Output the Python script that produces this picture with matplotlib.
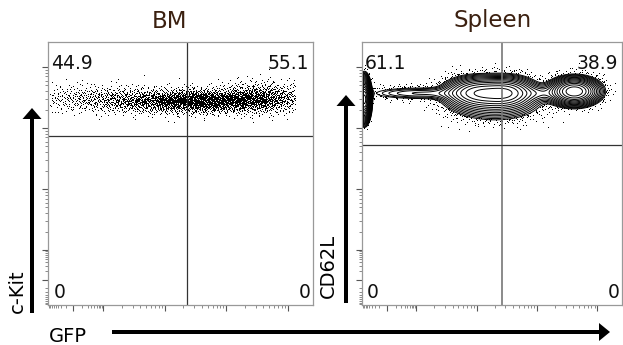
import numpy as np
import matplotlib
matplotlib.use('Agg')
import matplotlib.pyplot as plt
from matplotlib.patches import Polygon
from matplotlib.transforms import Affine2D

W, H = 623, 345
LIM = (-0.9, 3.41)   # display range in decades (logicle-like)

panels = ['BM', 'Spleen']
y_labels = ['c-Kit', 'CD62L']
x_label = 'GFP'
# quadrant percentages: upper-left, upper-right, lower-left, lower-right
bm_quad = ['44.9', '55.1', '0', '0']
spleen_quad = ['61.1', '38.9', '0', '0']
gate_x = [1.36, 1.42]
gate_y = [1.87, 1.72]

# populations: centre x, centre y, sd x, sd y, weight
bm_cx = [1.5, -0.2, 2.6]
bm_cy = [2.43, 2.47, 2.5]
bm_sx = [0.75, 0.6, 0.35]
bm_sy = [0.1, 0.12, 0.13]
bm_w = [0.7, 0.12, 0.18]
bm_xrange = [-0.87, 3.12]

sp_cx = [-0.86, 0.05, 1.0, 1.5, 1.3, 2.05, 2.62]
sp_cy = [2.47, 2.57, 2.58, 2.58, 2.38, 2.57, 2.6]
sp_sx = [0.045, 0.5, 0.27, 0.25, 0.4, 0.18, 0.2]
sp_sy = [0.15, 0.06, 0.13, 0.13, 0.15, 0.07, 0.11]
sp_w = [0.28, 0.03, 0.2, 0.2, 0.08, 0.012, 0.24]


def mixture(x, y, cx, cy, sx, sy, w):
    d = np.zeros_like(x, dtype=float)
    for a, b, c, e, f in zip(cx, cy, sx, sy, w):
        d += f * np.exp(-0.5 * ((x - a) / c) ** 2 - 0.5 * ((y - b) / e) ** 2) / (c * e)
    return d


def halton(n, base):
    i = np.arange(1, n + 1)
    f = 1.0
    r = np.zeros(n)
    while i.any():
        f /= base
        r += f * (i % base)
        i = i // base
    return r


def px(x, y):
    return x / W, 1 - y / H


fig = plt.figure(figsize=(W / 100, H / 100), dpi=100)
pix = Affine2D().scale(1 / W, -1 / H).translate(0, 1) + fig.transFigure

ax1 = fig.add_axes([48 / W, 40 / H, 265 / W, 263 / H])
ax2 = fig.add_axes([362 / W, 40 / H, 260 / W, 263 / H])

majors = [-0.49, 0, 1, 2, 3]
minors = [-0.49 + 0.49 * np.log10(k) for k in range(2, 10)]
minors += [-0.49 - 0.41 * np.log10(k) for k in range(2, 10)]
for dec in range(3):
    minors += [dec + np.log10(k) for k in range(2, 10)]

for ax in (ax1, ax2):
    ax.set_xlim(LIM)
    ax.set_ylim(LIM)
    ax.set_xticks(majors)
    ax.set_yticks(majors)
    ax.set_xticks(minors, minor=True)
    ax.set_yticks(minors, minor=True)
    ax.set_xticklabels([])
    ax.set_yticklabels([])
    ax.tick_params(which='major', direction='out', length=4, width=0.8, color='#555555')
    ax.tick_params(which='minor', direction='out', length=2.2, width=0.6, color='#777777')
    for s in ax.spines.values():
        s.set_color('#999999')
        s.set_linewidth(0.9)

# BM dot plot (deterministic halton sampling of the population model)
n = 26000
hx, hy, hu = halton(n, 2), halton(n, 3), halton(n, 5)
x = LIM[0] + hx * 4.2
y = 1.9 + hy * 1.1
d = mixture(x, y, bm_cx, bm_cy, bm_sx, bm_sy, bm_w)
d[(x < bm_xrange[0]) | (x > bm_xrange[1])] = 0
keep = hu < d / d.max()
ax1.plot(x[keep], y[keep], ls='none', marker=',', color='black')

# Spleen contour plot with outliers
gx, gy = np.meshgrid(np.linspace(LIM[0], LIM[1], 600), np.linspace(LIM[0], LIM[1], 600))
gd = mixture(gx, gy, sp_cx, sp_cy, sp_sx, sp_sy, sp_w)
gd[gx < -0.885] = 0
flat = np.sort(gd.ravel())[::-1]
cum = np.cumsum(flat) / flat.sum()
outer = flat[np.searchsorted(cum, 0.97)]
levels = outer * (0.9 * flat[0] / outer) ** np.linspace(0, 1, 20)
ax2.contour(gx, gy, gd, levels=levels, colors='black', linewidths=0.7)

n = 40000
hx, hy, hu = halton(n, 2), halton(n, 3), halton(n, 5)
x = LIM[0] + hx * 4.2
y = 1.9 + hy * 1.2
d = mixture(x, y, sp_cx, sp_cy, sp_sx, sp_sy, sp_w)
keep = (d < outer) & (hu < 0.13 * d / outer) & (x > -0.88)
ax2.plot(x[keep], y[keep], ls='none', marker=',', color='black')

# quadrant gates
ax1.axvline(gate_x[0], color='#333333', lw=0.9)
ax1.axhline(gate_y[0], color='#333333', lw=0.9)
ax2.axvline(gate_x[1], color='#777777', lw=1.2)
ax2.axhline(gate_y[1], color='#333333', lw=0.9)

for ax, q in ((ax1, bm_quad), (ax2, spleen_quad)):
    kw = dict(transform=ax.transAxes, fontsize=13.5, color='#111111')
    ax.text(0.01, 0.955, q[0], ha='left', va='top', **kw)
    ax.text(0.985, 0.955, q[1], ha='right', va='top', **kw)
    ax.text(0.02, 0.01, q[2], ha='left', va='bottom', **kw)
    ax.text(0.99, 0.01, q[3], ha='right', va='bottom', **kw)

# titles
fig.text(*px(169, 21), panels[0], ha='center', va='center', fontsize=16.5, color='#3b2010')
fig.text(*px(493, 21), panels[1], ha='center', va='center', fontsize=16.5, color='#3b2010')

# axis labels
fig.text(*px(17, 291), y_labels[0], rotation=90, ha='center', va='center', fontsize=14)
fig.text(*px(328, 266), y_labels[1], rotation=90, ha='center', va='center', fontsize=14)
fig.text(*px(68, 336), x_label, ha='center', va='center', fontsize=14)


def arrow(x0, y0, x1, y1, shaft=4, head_w=20, head_l=11):
    v = np.array([x1 - x0, y1 - y0], float)
    L = np.hypot(*v)
    u = v / L
    nrm = np.array([-u[1], u[0]])
    p0 = np.array([x0, y0], float)
    base = p0 + u * (L - head_l)
    poly = [p0 + nrm * shaft / 2, base + nrm * shaft / 2, base + nrm * head_w / 2,
            np.array([x1, y1]), base - nrm * head_w / 2, base - nrm * shaft / 2, p0 - nrm * shaft / 2]
    fig.patches.append(Polygon(poly, closed=True, transform=pix, color='black', lw=0))


arrow(32, 313, 32, 108, head_w=19)
arrow(346, 303, 346, 95, head_w=19)
arrow(112, 332, 610, 332, head_w=18)

fig.savefig('out.png', dpi=100)
